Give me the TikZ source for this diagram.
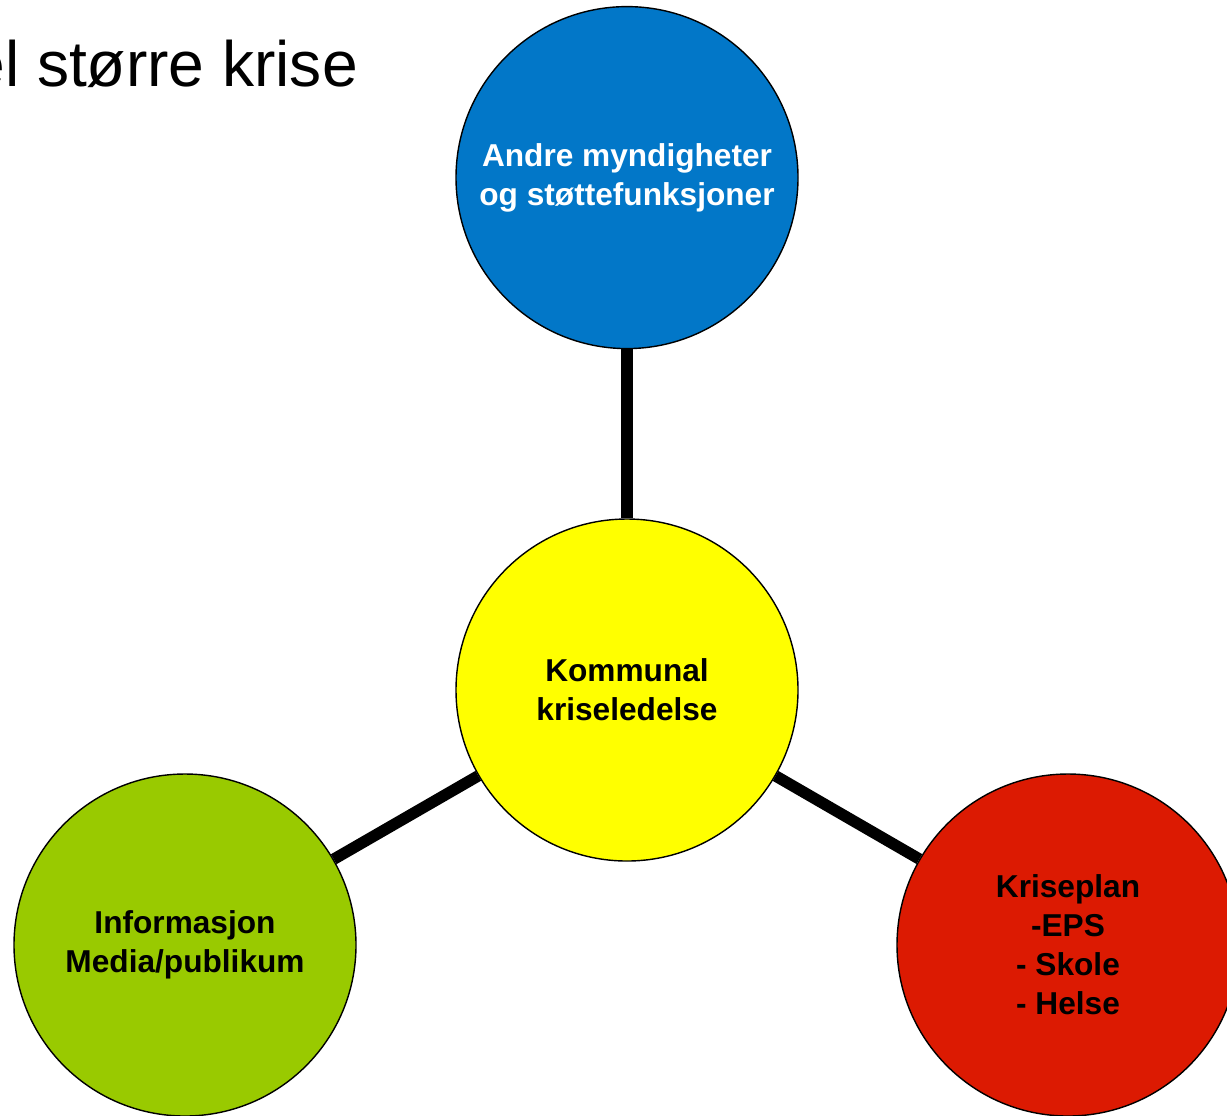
\documentclass[tikz,border=0pt]{standalone}
\usepackage{fontspec}
\setmainfont{Liberation Sans}
\usetikzlibrary{positioning}

\definecolor{kblue}{RGB}{2,119,200}
\definecolor{kyellow}{RGB}{255,255,0}
\definecolor{kgreen}{RGB}{153,202,0}
\definecolor{kred}{RGB}{220,26,2}

\begin{document}
\begin{tikzpicture}[
	unit/.style={circle, draw=black, line width=0.8pt, minimum size=6.84cm,
		inner sep=0pt, align=center, font=\fontsize{18}{22.2}\selectfont\bfseries},
	link/.style={line width=6.5pt, black},
	every node/.style={color=black}
	]
	\useasboundingbox (0,0) rectangle (24.54,-22.3);
	% title
	\node(title)[anchor=base west, inner sep=0pt] at (-0.62,-1.72)
	{\fontsize{36.5}{44}\selectfont el større krise};
	% circles
	\node(center)[unit, fill=kyellow] at (12.54,-13.8)
	{Kommunal\\kriseledelse};
	\node(other)[unit, fill=kblue, above=3.38cm of center, text=white]
	{Andre myndigheter\\og støttefunksjoner};
	\node(info)[unit, fill=kgreen] at (3.70,-18.9)
	{Informasjon\\Media/publikum};
	\node(plan)[unit, fill=kred] at (21.36,-18.9)
	{Kriseplan\\-EPS\\- Skole\\- Helse};
	% lines
	\draw[link] (other) -- (center);
	\draw[link] (center) -- (info);
	\draw[link] (center) -- (plan);
\end{tikzpicture}
\end{document}
